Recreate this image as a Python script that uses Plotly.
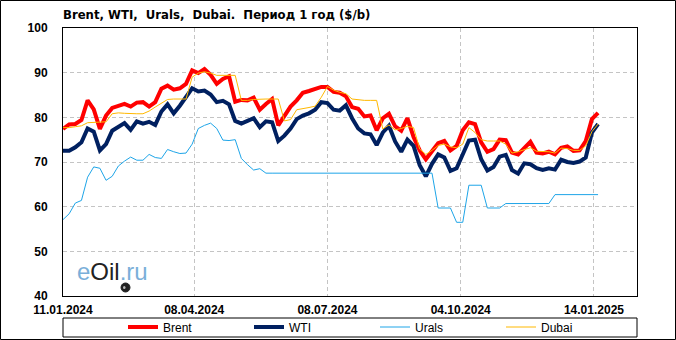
import plotly.graph_objects as go

# ---- data (one sample every 3 trading days) ----
DAY_STEP = 3
TICK_DAYS = [0, 64, 129, 194, 259]
TICK_LABELS = ["11.01.2024", "08.04.2024", "08.07.2024", "04.10.2024", "14.01.2025"]

BRENT = [77.4, 78.4, 78.5, 79.4, 83.8, 81.8, 77.4, 80.4, 82.1, 82.6,
         83.0, 82.4, 83.3, 83.4, 82.4, 83.4, 86.4, 87.1, 86.2, 86.5,
         87.5, 90.5, 89.9, 90.8, 89.5, 87.5, 88.6, 89.2, 83.5, 83.9,
         83.8, 84.4, 81.7, 83.0, 84.1, 78.2, 80.2, 82.4, 83.8, 85.5,
         85.9, 86.4, 86.8, 86.8, 85.7, 85.5, 84.7, 82.3, 81.9, 80.2,
         80.4, 77.1, 79.8, 80.8, 78.0, 77.0, 79.8, 75.6, 72.6, 70.6,
         72.3, 74.2, 74.7, 72.6, 73.6, 77.1, 78.9, 78.5, 74.4, 72.3,
         72.9, 75.0, 74.9, 72.1, 71.7, 73.1, 74.5, 72.1, 71.9, 72.3,
         71.7, 73.2, 73.5, 72.5, 72.6, 74.7, 79.6, 81.0]

WTI = [72.5, 72.5, 73.3, 74.4, 77.5, 76.8, 72.6, 74.0, 77.0, 77.8,
       78.7, 77.2, 79.1, 78.6, 79.0, 78.3, 81.3, 82.9, 80.9, 82.6,
       84.4, 86.5, 85.8, 86.0, 85.1, 83.4, 83.7, 82.9, 79.2, 78.6,
       79.2, 79.8, 77.8, 79.1, 78.9, 74.7, 75.9, 77.5, 79.6, 80.4,
       80.9, 81.7, 83.4, 83.2, 81.7, 81.5, 82.7, 79.8, 77.5, 76.4,
       76.2, 73.8, 76.6, 78.1, 74.6, 72.3, 75.0, 73.6, 69.3, 66.8,
       69.6, 71.7, 71.0, 68.0, 68.6, 71.7, 74.8, 75.0, 70.6, 68.1,
       68.9, 71.2, 71.6, 68.2, 67.4, 69.7, 69.5, 68.6, 68.2, 68.6,
       68.3, 70.5, 70.0, 69.8, 70.1, 71.0, 76.6, 78.5]

URALS = [57.1, 58.4, 60.8, 61.4, 66.6, 68.9, 68.6, 65.9, 66.8, 69.1,
         70.2, 71.1, 70.4, 70.4, 71.7, 71.0, 70.8, 72.8, 72.3, 71.9,
         72.0, 74.0, 77.5, 78.2, 78.7, 77.5, 74.9, 74.8, 75.0, 70.8,
         69.4, 68.2, 68.5, 67.5, 67.5, 67.5, 67.5, 67.5, 67.5, 67.5,
         67.5, 67.5, 67.5, 67.5, 67.5, 67.5, 67.5, 67.5, 67.5, 67.5,
         67.5, 67.5, 67.5, 67.5, 67.5, 67.5, 67.5, 67.5, 67.5, 67.5,
         67.5, 59.7, 59.7, 59.7, 56.5, 56.5, 64.8, 64.8, 64.8, 59.7,
         59.7, 59.7, 60.7, 60.7, 60.7, 60.7, 60.7, 60.7, 60.7, 60.7,
         62.7, 62.7, 62.7, 62.7, 62.7, 62.7, 62.7, 62.7]

DUBAI = [77.7, 77.7, 77.9, 78.1, 78.8, 78.9, 78.9, 79.0, 80.8, 81.0,
         80.9, 80.8, 80.8, 80.8, 81.4, 82.3, 83.2, 84.0, 84.1, 84.1,
         84.1, 89.0, 89.9, 90.2, 89.9, 89.4, 89.4, 89.4, 89.4, 83.8,
         83.8, 84.0, 84.1, 84.1, 84.1, 84.1, 79.2, 79.5, 81.7, 81.9,
         82.2, 82.5, 84.5, 86.9, 86.1, 85.6, 85.3, 84.1, 83.9, 83.8,
         83.8, 83.8, 77.4, 78.3, 77.2, 77.5, 78.0, 77.7, 72.9, 71.7,
         72.6, 73.7, 74.0, 73.4, 73.2, 74.0, 77.7, 76.6, 75.0, 74.7,
         74.7, 74.7, 74.0, 72.0, 72.3, 72.8, 73.2, 72.4, 72.3, 72.3,
         72.0, 73.1, 73.0, 72.6, 72.6, 73.6, 76.8, 78.5]

SERIES = [
    ("Brent", BRENT, "#ff0000", 4),
    ("WTI", WTI, "#002060", 4),
    ("Urals", URALS, "#1ea5e8", 1),
    ("Dubai", DUBAI, "#ffb800", 1),
]

x = [i * DAY_STEP for i in range(len(BRENT))]

fig = go.Figure()
for name, vals, color, w in SERIES:
    fig.add_trace(go.Scatter(x=x, y=vals, mode="lines", name=name,
                             line=dict(color=color, width=w)))

# layout geometry (pixels)
W, H = 676, 340
ML, MR, MT, MB = 63, 39, 28, 44
PW, PH = W - ML - MR, H - MT - MB

def px_x(p):
    return (p - ML) / PW

def px_y(p):
    return (H - MB - p) / PH

tickfont = dict(family="Liberation Sans, Arial, sans-serif", size=12, color="black", weight="bold")
grid = dict(showgrid=True, gridcolor="#c4c4c4", griddash="4px,3px", gridwidth=1,
            showline=True, linecolor="black", linewidth=1, mirror=True,
            zeroline=False, tickfont=tickfont)

fig.update_layout(
    width=W, height=H,
    margin=dict(l=ML, r=MR, t=MT, b=MB, autoexpand=False),
    paper_bgcolor="white", plot_bgcolor="white",
    title=dict(text="Brent, WTI,\u00a0 Urals,\u00a0 Dubai.\u00a0 Период 1 год ($/b)",
               x=px_x(63), xref="paper", xanchor="left",
               y=1 - 14.5 / H, yref="container", yanchor="middle",
               font=dict(family="DejaVu Sans, Verdana, sans-serif", size=11.7,
                         color="black", weight="bold")),
    xaxis=dict(range=[0, 280], tickvals=TICK_DAYS, ticktext=TICK_LABELS,
               ticks="outside", ticklen=3, tickcolor="rgba(0,0,0,0)", **grid),
    yaxis=dict(range=[40, 100], dtick=10, tick0=40,
               ticks="outside", ticklen=12, tickcolor="rgba(0,0,0,0)", **grid),
    showlegend=True,
    legend=dict(orientation="h", x=px_x(123), xanchor="left",
                y=px_y(327), yanchor="middle",
                entrywidth=81, itemwidth=30, bgcolor="rgba(0,0,0,0)",
                font=dict(family="Liberation Sans, Arial, sans-serif", size=12, color="black")),
    shapes=[
        dict(type="rect", xref="paper", yref="paper",
             x0=0, x1=1, y0=px_y(337), y1=px_y(318),
             line=dict(color="black", width=1), fillcolor="rgba(0,0,0,0)"),
        dict(type="rect", xref="paper", yref="paper",
             x0=px_x(0.5), x1=px_x(675.5), y0=px_y(339.5), y1=px_y(0.5),
             line=dict(color="black", width=1), fillcolor="rgba(0,0,0,0)"),
        # oil-drop icon of the logo
        dict(type="circle", xref="paper", yref="paper",
             x0=px_x(121), x1=px_x(130), y0=px_y(292), y1=px_y(283),
             line=dict(color="#222222", width=1), fillcolor="#222222"),
        dict(type="circle", xref="paper", yref="paper",
             x0=px_x(123), x1=px_x(125.5), y0=px_y(289), y1=px_y(286),
             line=dict(width=0), fillcolor="#bbbbbb"),
    ],
    annotations=[
        dict(text="<span style='color:#7aafd9'>e</span><span style='color:#222222'>Oil</span>"
                  "<span style='color:#7aafd9'>.ru</span>",
             xref="paper", yref="paper", x=px_x(75), y=px_y(271),
             xanchor="left", yanchor="middle", showarrow=False,
             font=dict(family="Liberation Sans, Arial, sans-serif", size=24)),
    ],
)

fig.write_html("out.html")
